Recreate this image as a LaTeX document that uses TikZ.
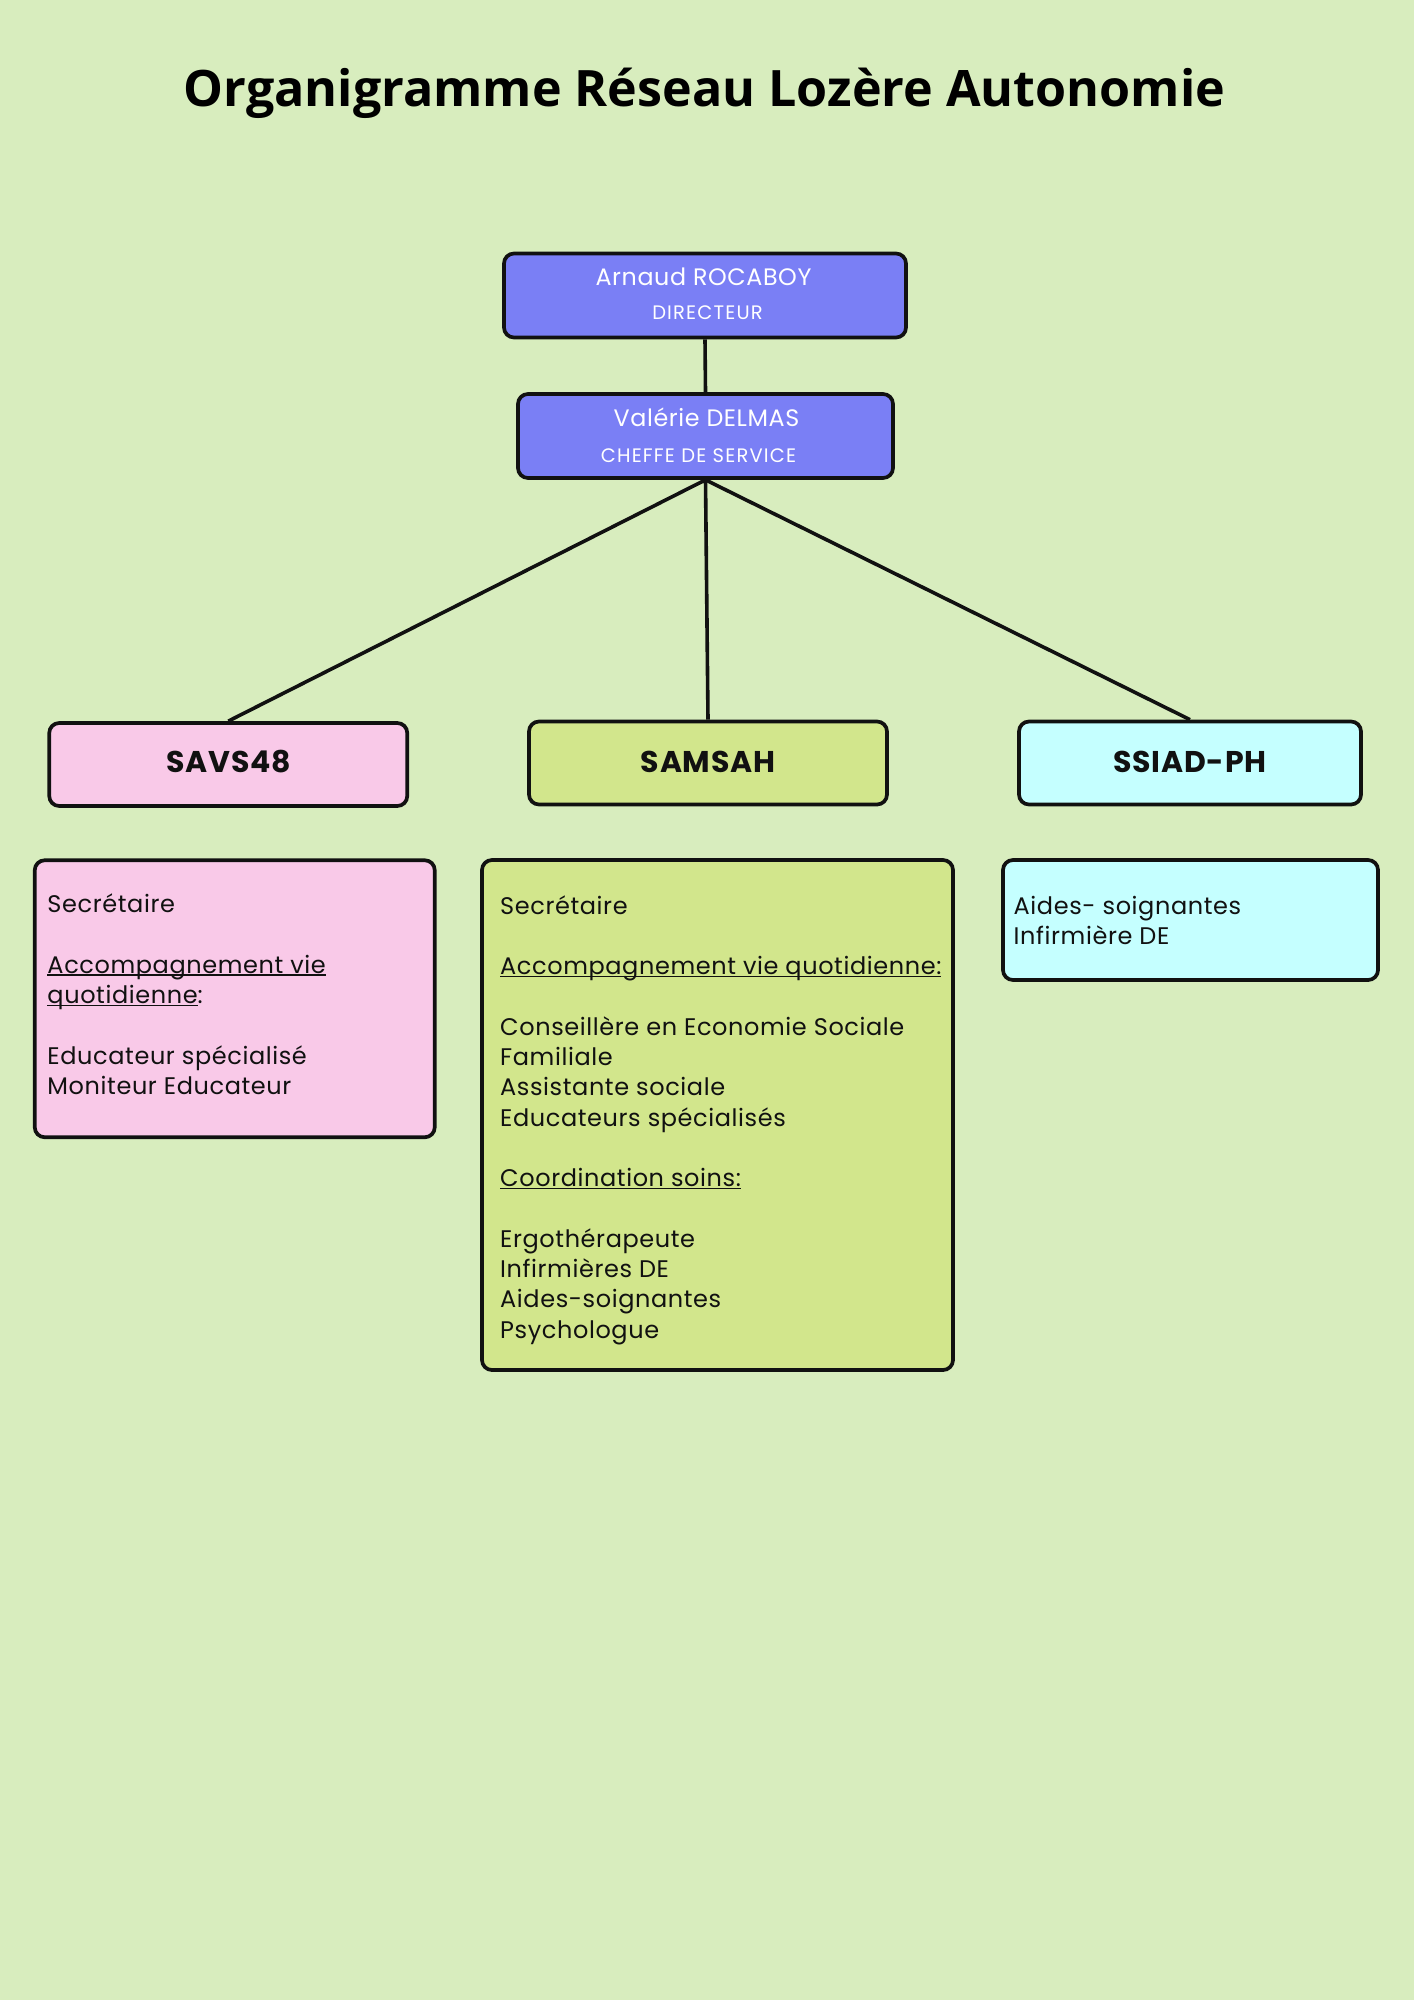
\documentclass[tikz,border=0pt]{standalone}
\usepackage{fontspec}
\setmainfont{Poppins}[LetterSpace=2.5]
\newfontfamily\titlefont{Open Sans}
\newfontfamily\smallcapsfont{Poppins}[LetterSpace=6]
\definecolor{bgc}{HTML}{D8EDBE}
\definecolor{purp}{HTML}{7A7FF5}
\definecolor{pinkc}{HTML}{F9C9E8}
\definecolor{limec}{HTML}{D2E68C}
\definecolor{cyanc}{HTML}{C5FFFF}
\definecolor{ink}{HTML}{111111}
\newcommand\ulx[1]{\leavevmode\setbox0\hbox{#1}\rlap{\rule[-2.6bp]{\wd0}{1.4bp}}\box0}
\newcommand\bodyfont{\fontsize{24bp}{30.3bp}\selectfont}
\tikzset{
  boxbase/.style={draw=ink, line width=3.7bp, rounded corners=10bp, inner sep=0pt},
  headtext/.style={inner sep=0pt, anchor=base, text=ink, font=\fontsize{30bp}{34bp}\selectfont\bfseries},
  whitebig/.style={inner sep=0pt, anchor=base, text=white, font=\fontsize{23.8bp}{28bp}\selectfont},
  whitesmall/.style={inner sep=0pt, anchor=base, text=white, font=\smallcapsfont\fontsize{19.5bp}{24bp}\selectfont},
  bodytext/.style={inner sep=0pt, anchor=base west, text=ink},
  link/.style={draw=ink, line width=3.6bp}
}
\begin{document}
\begin{tikzpicture}[x=1bp,y=-1bp]
\fill[bgc] (0,0) rectangle (1414,2000);
\useasboundingbox (0,0) rectangle (1414,2000);

\node[inner sep=0pt, anchor=base, text=black, font=\titlefont\fontsize{50.2bp}{60bp}\selectfont\bfseries] (title) at (704.5,106) {Organigramme Réseau Lozère Autonomie};

% top boxes
\node[boxbase, fill=purp, minimum width=402bp, minimum height=84bp] (dir) at (705,295.5) {};
\node[whitebig] (dirname) at (703.5,285.7) {Arnaud ROCABOY};
\node[whitesmall] (dirrole) at (707.5,319) {DIRECTEUR};

\node[boxbase, fill=purp, minimum width=375bp, minimum height=84bp] (val) at (705.5,436) {};
\node[whitebig] (valname) at (706.5,426.7) {Valérie DELMAS};
\node[whitesmall] (valrole) at (698.5,462) {CHEFFE DE SERVICE};

% service boxes
\node[boxbase, fill=pinkc, minimum width=358bp, minimum height=83bp] (savs) at (228.25,764.5) {};
\node[headtext] (savst) at (228.5,772.7) {SAVS48};
\node[boxbase, fill=limec, minimum width=358bp, minimum height=83bp] (samsah) at (708,763) {};
\node[headtext] (samsaht) at (708,772.7) {SAMSAH};
\node[boxbase, fill=cyanc, minimum width=342bp, minimum height=83bp] (ssiad) at (1190,763) {};
\node[headtext] (ssiadt) at (1190,772.7) {SSIAD-PH};

% connectors
\draw[link] (dir.south) -- (val.north);
\draw[link] (val.south) -- (savs.north);
\draw[link] (val.south) -- (samsah.north);
\draw[link] (val.south) -- (ssiad.north);

% detail boxes
\node[boxbase, fill=pinkc, minimum width=400bp, minimum height=277bp] (savsd) at (234.75,998.75) {};
\node[boxbase, fill=limec, minimum width=471bp, minimum height=510bp] (samsahd) at (717.5,1115) {};
\node[boxbase, fill=cyanc, minimum width=375bp, minimum height=120bp] (ssiadd) at (1190.5,920) {};

\node[bodytext] (savsdt) at (47.3,912.5) {\parbox[t]{380bp}{\bodyfont\raggedright
Secrétaire\\[30.3bp]
\ulx{Accompagnement vie}\\
\ulx{quotidienne}:\\[30.3bp]
Educateur spécialisé\\
Moniteur Educateur}};

\node[bodytext] (samsahdt) at (500,914) {\parbox[t]{450bp}{\bodyfont\raggedright
Secrétaire\\[30.3bp]
\ulx{Accompagnement vie quotidienne:}\\[30.3bp]
Conseillère en Economie Sociale\\
Familiale\\
Assistante sociale\\
Educateurs spécialisés\\[30.3bp]
\ulx{Coordination soins:}\\[30.3bp]
Ergothérapeute\\
Infirmières DE\\
Aides-soignantes\\
Psychologue}};

\node[bodytext] (ssiaddt) at (1013.5,914) {\parbox[t]{360bp}{\bodyfont\raggedright
Aides- soignantes\\
Infirmière DE}};
\end{tikzpicture}
\end{document}
